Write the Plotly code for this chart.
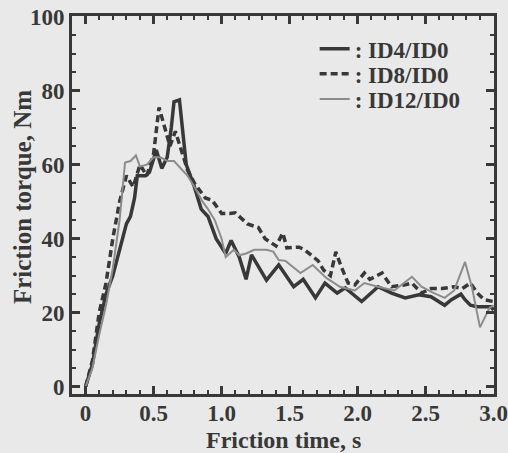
import plotly.graph_objects as go

# ID4/ID0 (solid, dark)
t_id4 = [0, 0.05, 0.1, 0.15, 0.2, 0.25, 0.3, 0.33, 0.36, 0.38, 0.44, 0.47, 0.52, 0.56, 0.6, 0.63,
         0.65, 0.69, 0.74, 0.8, 0.85, 0.9, 0.96, 1.03, 1.07, 1.13, 1.18, 1.22, 1.33, 1.42, 1.53,
         1.6, 1.69, 1.76, 1.85, 1.91, 2.03, 2.12, 2.15, 2.25, 2.35, 2.45, 2.54, 2.64, 2.69, 2.76,
         2.79, 2.83, 2.88, 2.98, 3.0]
v_id4 = [0, 6, 17, 25, 30, 37, 44, 46, 51, 57, 57, 58, 64, 59, 62, 70,
         77, 77.5, 60, 54, 48, 46, 40, 36, 39.5, 35, 29, 35.6, 28.8, 32.9, 27,
         29, 24, 28, 25.3, 26.7, 23, 26, 27, 25.3, 24, 24.8, 24.3, 22, 23.5, 25,
         23.5, 22, 21.6, 21.6, 20.7]

# ID8/ID0 (dashed, dark)
t_id8 = [0, 0.05, 0.1, 0.15, 0.2, 0.25, 0.3, 0.35, 0.4, 0.45, 0.5, 0.54, 0.59, 0.62, 0.66, 0.71,
         0.75, 0.8, 0.88, 0.93, 1.0, 1.06, 1.1, 1.19, 1.27, 1.32, 1.4, 1.45, 1.48, 1.57, 1.61,
         1.71, 1.75, 1.8, 1.84, 1.88, 1.93, 1.98, 2.05, 2.09, 2.18, 2.25, 2.35, 2.4, 2.47, 2.54,
         2.62, 2.71, 2.77, 2.83, 2.88, 2.93, 2.98, 3.0]
v_id8 = [0, 7, 20, 28, 40, 50, 57, 54, 60, 57, 63, 75.5, 69, 65, 69, 63,
         58.5, 55, 51, 50.4, 46.8, 46.8, 47, 44, 43, 40, 38, 41.5, 37.5, 37.7, 37,
         34, 31.5, 30, 36.4, 32.4, 28, 27.5, 30.7, 29, 30.7, 27, 27.5, 28, 25.3, 26.5,
         26.5, 27, 26.5, 28, 25.3, 23.5, 23, 23]

# ID12/ID0 (gray)
t_id12 = [0, 0.05, 0.1, 0.15, 0.2, 0.25, 0.29, 0.33, 0.37, 0.4, 0.45, 0.5, 0.55, 0.6, 0.65, 0.7,
          0.75, 0.8, 0.86, 0.9, 0.95, 1.0, 1.03, 1.09, 1.13, 1.18, 1.24, 1.33, 1.38, 1.42, 1.47,
          1.58, 1.67, 1.77, 1.87, 1.98, 2.05, 2.15, 2.27, 2.4, 2.47, 2.55, 2.64, 2.71, 2.79, 2.84,
          2.9, 2.97, 3.0]
v_id12 = [0, 5, 14, 22, 32, 45, 60.6, 61, 62.5, 59.5, 60, 62, 62, 61, 61, 59,
          57, 54, 50, 48, 45, 40, 35, 37, 35.5, 36, 37, 37, 36.5, 34.2, 34,
          30.7, 32.9, 29.4, 27, 26, 28, 27, 26, 29.7, 27, 25.5, 24, 26, 33.7, 27,
          16, 21.3, 22]

x_ticks = [0, 0.5, 1.0, 1.5, 2.0, 2.5, 3.0]
x_ticklabels = ["0", "0.5", "1.0", "1.5", "2.0", "2.5", "3.0"]
y_ticks = [0, 20, 40, 60, 80, 100]

dark = "#383838"
gray = "#8c8c8c"
bg = "#e9e9e9"
font_family = "Liberation Serif"

fig = go.Figure()
fig.add_trace(go.Scatter(x=t_id4, y=v_id4, mode="lines", name="<b>: ID4/ID0</b>",
                         line=dict(color=dark, width=3.5), legend="legend", showlegend=True))
fig.add_trace(go.Scatter(x=t_id8, y=v_id8, mode="lines", name="<b>: ID8/ID0</b>",
                         line=dict(color=dark, width=3.5, dash="7px,4px"), legend="legend2",
                         showlegend=True))
fig.add_trace(go.Scatter(x=t_id12, y=v_id12, mode="lines", name="<b>: ID12/ID0</b>",
                         line=dict(color=gray, width=2), legend="legend3", showlegend=True))

axis_common = dict(
    showgrid=False, zeroline=False, showline=True, linecolor=dark, linewidth=3,
    mirror="ticks", ticks="inside", ticklen=8, tickwidth=2.5, tickcolor=dark,
    tickfont=dict(family=font_family, size=23, color=dark), automargin=False,
    ticklabeloverflow="allow",
)

fig.update_xaxes(
    range=[-0.1, 3.003], tickvals=x_ticks, ticktext=[f"<b>{s}</b>" for s in x_ticklabels],
    ticklabelstandoff=-4,
    minor=dict(dtick=0.1, tick0=0, ticks="inside", ticklen=4, tickwidth=2, tickcolor=dark),
    **axis_common,
)
fig.update_yaxes(
    range=[-2, 100.2], tickvals=y_ticks, ticktext=[f"<b>{v}</b>" for v in y_ticks],
    minor=dict(dtick=5, tick0=0, ticks="inside", ticklen=4, tickwidth=2, tickcolor=dark),
    **axis_common,
)

leg_common = dict(xanchor="left", yanchor="middle", bgcolor="rgba(0,0,0,0)",
                  font=dict(family=font_family, size=23, color=dark), itemwidth=30)
fig.update_layout(
    width=508, height=453,
    margin=dict(l=72, r=14, t=16, b=59),
    paper_bgcolor=bg, plot_bgcolor=bg,
    font=dict(family=font_family, color=dark),
    showlegend=True,
    legend=dict(x=0.575, y=0.913, **leg_common),
    legend2=dict(x=0.575, y=0.847, **leg_common),
    legend3=dict(x=0.575, y=0.780, **leg_common),
    annotations=[
        dict(text="<b>Friction time, s</b>", xref="paper", yref="paper", x=0.5, y=-0.122,
             xanchor="center", yanchor="middle", showarrow=False,
             font=dict(family=font_family, size=24, color=dark)),
        dict(text="<b>Friction torque, Nm</b>", xref="paper", yref="paper", x=-0.1185, y=0.521,
             xanchor="center", yanchor="middle", showarrow=False, textangle=-90,
             font=dict(family=font_family, size=25, color=dark)),
    ],
)

fig.write_html("out.html")
